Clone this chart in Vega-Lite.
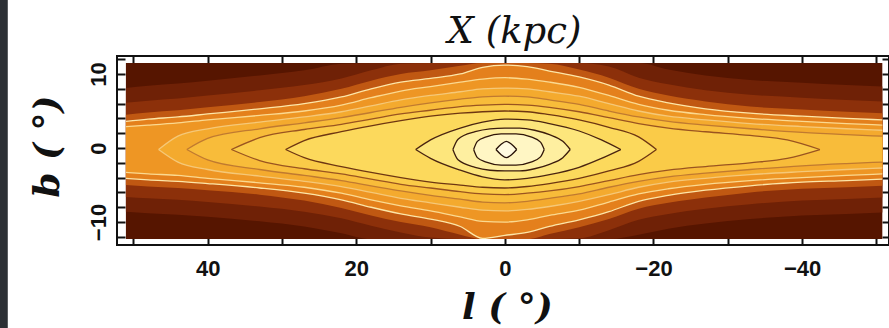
{
  "$schema": "https://vega.github.io/schema/vega-lite/v6.json",
  "width": 772,
  "height": 189,
  "autosize": "none",
  "padding": {"left": 117, "top": 56, "right": 0, "bottom": 83},
  "background": "white",
  "config": {"view": {"stroke": "#111111", "strokeWidth": 2, "fill": "white"}, "axis": {"grid": false}},
  "resolve": {"axis": {"x": "independent", "y": "independent"}},
  "datasets": {
    "lv": [
      {"lv":"G2","l":51,"t":8.1,"b":-8.6},{"lv":"G2","l":48,"t":8.4,"b":-8.8},{"lv":"G2","l":44,"t":8.7,"b":-9.0},{"lv":"G2","l":40,"t":9.1,"b":-9.3},{"lv":"G2","l":33,"t":9.8,"b":-9.9},{"lv":"G2","l":27,"t":10.5,"b":-10.6},{"lv":"G2","l":22,"t":11.4,"b":-11.5},{"lv":"G2","l":18,"t":11.5,"b":-12.3},{"lv":"G2","l":14,"t":11.5,"b":-12.3},{"lv":"G2","l":10,"t":11.5,"b":-12.3},{"lv":"G2","l":6,"t":11.5,"b":-12.3},{"lv":"G2","l":3,"t":11.5,"b":-12.3},{"lv":"G2","l":0,"t":11.5,"b":-12.3},{"lv":"G2","l":-3,"t":11.5,"b":-12.3},{"lv":"G2","l":-6,"t":11.5,"b":-12.3},{"lv":"G2","l":-10,"t":11.5,"b":-12.3},{"lv":"G2","l":-14,"t":11.5,"b":-12.3},{"lv":"G2","l":-18,"t":11.5,"b":-11.7},{"lv":"G2","l":-22,"t":10.6,"b":-10.9},{"lv":"G2","l":-27,"t":9.8,"b":-10.2},{"lv":"G2","l":-33,"t":9.2,"b":-9.6},{"lv":"G2","l":-40,"t":8.8,"b":-9.1},{"lv":"G2","l":-46,"t":8.5,"b":-8.9},{"lv":"G2","l":-50.8,"t":8.3,"b":-8.7},
      {"lv":"G1","l":51,"t":6.1,"b":-6.6},{"lv":"G1","l":48,"t":6.4,"b":-6.8},{"lv":"G1","l":44,"t":6.7,"b":-7.0},{"lv":"G1","l":40,"t":7.1,"b":-7.3},{"lv":"G1","l":33,"t":7.8,"b":-7.9},{"lv":"G1","l":27,"t":8.5,"b":-8.6},{"lv":"G1","l":22,"t":9.4,"b":-9.5},{"lv":"G1","l":18,"t":10.5,"b":-10.5},{"lv":"G1","l":14,"t":11.4,"b":-11.4},{"lv":"G1","l":10,"t":11.5,"b":-12.1},{"lv":"G1","l":6,"t":11.5,"b":-12.3},{"lv":"G1","l":3,"t":11.5,"b":-12.3},{"lv":"G1","l":0,"t":11.5,"b":-12.3},{"lv":"G1","l":-3,"t":11.5,"b":-12.3},{"lv":"G1","l":-6,"t":11.5,"b":-12.3},{"lv":"G1","l":-10,"t":11.5,"b":-12.2},{"lv":"G1","l":-14,"t":11.0,"b":-11.1},{"lv":"G1","l":-18,"t":9.5,"b":-9.7},{"lv":"G1","l":-22,"t":8.6,"b":-8.9},{"lv":"G1","l":-27,"t":7.8,"b":-8.2},{"lv":"G1","l":-33,"t":7.2,"b":-7.6},{"lv":"G1","l":-40,"t":6.8,"b":-7.1},{"lv":"G1","l":-46,"t":6.5,"b":-6.9},{"lv":"G1","l":-50.8,"t":6.3,"b":-6.7},
      {"lv":"G0","l":51,"t":4.5,"b":-5.0},{"lv":"G0","l":48,"t":4.8,"b":-5.2},{"lv":"G0","l":44,"t":5.1,"b":-5.4},{"lv":"G0","l":40,"t":5.5,"b":-5.7},{"lv":"G0","l":33,"t":6.2,"b":-6.3},{"lv":"G0","l":27,"t":7.0,"b":-7.1},{"lv":"G0","l":22,"t":8.0,"b":-8.1},{"lv":"G0","l":18,"t":9.1,"b":-9.1},{"lv":"G0","l":14,"t":10.0,"b":-10.0},{"lv":"G0","l":10,"t":10.5,"b":-10.7},{"lv":"G0","l":6,"t":11.1,"b":-11.7},{"lv":"G0","l":3,"t":11.5,"b":-12.3},{"lv":"G0","l":0,"t":11.5,"b":-12.3},{"lv":"G0","l":-3,"t":11.5,"b":-12.3},{"lv":"G0","l":-6,"t":11.4,"b":-11.6},{"lv":"G0","l":-10,"t":10.6,"b":-10.7},{"lv":"G0","l":-14,"t":9.5,"b":-9.6},{"lv":"G0","l":-18,"t":8.0,"b":-8.2},{"lv":"G0","l":-22,"t":7.1,"b":-7.4},{"lv":"G0","l":-27,"t":6.3,"b":-6.7},{"lv":"G0","l":-33,"t":5.6,"b":-6.0},{"lv":"G0","l":-40,"t":5.2,"b":-5.5},{"lv":"G0","l":-46,"t":4.9,"b":-5.3},{"lv":"G0","l":-50.8,"t":4.7,"b":-5.1},
      {"lv":"L1","l":51,"t":3.6,"b":-4.1},{"lv":"L1","l":48,"t":3.9,"b":-4.3},{"lv":"L1","l":44,"t":4.2,"b":-4.5},{"lv":"L1","l":40,"t":4.6,"b":-4.8},{"lv":"L1","l":33,"t":5.3,"b":-5.4},{"lv":"L1","l":27,"t":6.0,"b":-6.1},{"lv":"L1","l":22,"t":6.9,"b":-7.0},{"lv":"L1","l":18,"t":8.0,"b":-8.0},{"lv":"L1","l":14,"t":8.9,"b":-8.9},{"lv":"L1","l":10,"t":9.4,"b":-9.6},{"lv":"L1","l":6,"t":10.0,"b":-10.6},{"lv":"L1","l":3,"t":10.9,"b":-12.2},{"lv":"L1","l":0,"t":11.2,"b":-11.8},{"lv":"L1","l":-3,"t":11.0,"b":-11.4},{"lv":"L1","l":-6,"t":10.4,"b":-10.6},{"lv":"L1","l":-10,"t":9.6,"b":-9.7},{"lv":"L1","l":-14,"t":8.5,"b":-8.6},{"lv":"L1","l":-18,"t":7.0,"b":-7.2},{"lv":"L1","l":-22,"t":6.1,"b":-6.4},{"lv":"L1","l":-27,"t":5.3,"b":-5.7},{"lv":"L1","l":-33,"t":4.7,"b":-5.1},{"lv":"L1","l":-40,"t":4.3,"b":-4.6},{"lv":"L1","l":-46,"t":4.0,"b":-4.4},{"lv":"L1","l":-50.8,"t":3.8,"b":-4.2},
      {"lv":"L2","l":51,"t":2.9,"b":-3.3},{"lv":"L2","l":48,"t":3.1,"b":-3.5},{"lv":"L2","l":44,"t":3.4,"b":-3.7},{"lv":"L2","l":40,"t":3.8,"b":-4.1},{"lv":"L2","l":33,"t":4.4,"b":-4.7},{"lv":"L2","l":27,"t":5.0,"b":-5.3},{"lv":"L2","l":22,"t":5.8,"b":-6.1},{"lv":"L2","l":18,"t":6.8,"b":-7.0},{"lv":"L2","l":14,"t":7.7,"b":-7.8},{"lv":"L2","l":10,"t":8.3,"b":-8.5},{"lv":"L2","l":6,"t":8.9,"b":-9.3},{"lv":"L2","l":3,"t":9.3,"b":-9.9},{"lv":"L2","l":0,"t":9.5,"b":-10.0},{"lv":"L2","l":-3,"t":9.3,"b":-9.7},{"lv":"L2","l":-6,"t":8.9,"b":-9.1},{"lv":"L2","l":-10,"t":8.2,"b":-8.4},{"lv":"L2","l":-14,"t":7.1,"b":-7.3},{"lv":"L2","l":-18,"t":5.9,"b":-6.2},{"lv":"L2","l":-22,"t":5.1,"b":-5.5},{"lv":"L2","l":-27,"t":4.5,"b":-4.9},{"lv":"L2","l":-33,"t":4.0,"b":-4.4},{"lv":"L2","l":-40,"t":3.6,"b":-4.0},{"lv":"L2","l":-46,"t":3.3,"b":-3.7},{"lv":"L2","l":-50.8,"t":3.1,"b":-3.5},
      {"lv":"L3","l":46.6,"t":-0.2,"b":-0.2},{"lv":"L3","l":44,"t":1.6,"b":-1.9},{"lv":"L3","l":40,"t":2.6,"b":-2.9},{"lv":"L3","l":33,"t":3.5,"b":-3.8},{"lv":"L3","l":27,"t":4.2,"b":-4.5},{"lv":"L3","l":22,"t":4.9,"b":-5.2},{"lv":"L3","l":18,"t":5.7,"b":-6.0},{"lv":"L3","l":14,"t":6.5,"b":-6.8},{"lv":"L3","l":10,"t":7.1,"b":-7.4},{"lv":"L3","l":6,"t":7.6,"b":-8.0},{"lv":"L3","l":3,"t":8.0,"b":-8.4},{"lv":"L3","l":0,"t":8.1,"b":-8.5},{"lv":"L3","l":-3,"t":8.0,"b":-8.3},{"lv":"L3","l":-6,"t":7.6,"b":-7.9},{"lv":"L3","l":-10,"t":7.0,"b":-7.2},{"lv":"L3","l":-14,"t":6.0,"b":-6.3},{"lv":"L3","l":-18,"t":5.0,"b":-5.3},{"lv":"L3","l":-22,"t":4.3,"b":-4.6},{"lv":"L3","l":-27,"t":3.8,"b":-4.1},{"lv":"L3","l":-33,"t":3.3,"b":-3.6},{"lv":"L3","l":-40,"t":2.9,"b":-3.2},{"lv":"L3","l":-46,"t":2.6,"b":-2.9},{"lv":"L3","l":-50.8,"t":2.4,"b":-2.7},
      {"lv":"L4","l":42.8,"t":-0.2,"b":-0.2},{"lv":"L4","l":40,"t":1.3,"b":-1.6},{"lv":"L4","l":33,"t":2.6,"b":-2.9},{"lv":"L4","l":27,"t":3.4,"b":-3.7},{"lv":"L4","l":22,"t":4.1,"b":-4.4},{"lv":"L4","l":18,"t":4.8,"b":-5.1},{"lv":"L4","l":14,"t":5.5,"b":-5.8},{"lv":"L4","l":10,"t":6.1,"b":-6.4},{"lv":"L4","l":6,"t":6.6,"b":-6.9},{"lv":"L4","l":3,"t":6.9,"b":-7.3},{"lv":"L4","l":0,"t":7.0,"b":-7.4},{"lv":"L4","l":-3,"t":6.9,"b":-7.2},{"lv":"L4","l":-6,"t":6.5,"b":-6.8},{"lv":"L4","l":-10,"t":5.9,"b":-6.2},{"lv":"L4","l":-14,"t":5.0,"b":-5.3},{"lv":"L4","l":-18,"t":4.2,"b":-4.5},{"lv":"L4","l":-22,"t":3.6,"b":-3.9},{"lv":"L4","l":-27,"t":3.1,"b":-3.4},{"lv":"L4","l":-33,"t":2.6,"b":-2.9},{"lv":"L4","l":-40,"t":2.1,"b":-2.4},{"lv":"L4","l":-46,"t":1.8,"b":-2.1},{"lv":"L4","l":-50.8,"t":1.6,"b":-1.9},
      {"lv":"L5","l":36.8,"t":-0.2,"b":-0.2},{"lv":"L5","l":33,"t":1.4,"b":-1.7},{"lv":"L5","l":27,"t":2.5,"b":-2.8},{"lv":"L5","l":22,"t":3.2,"b":-3.5},{"lv":"L5","l":18,"t":3.9,"b":-4.2},{"lv":"L5","l":14,"t":4.6,"b":-4.9},{"lv":"L5","l":10,"t":5.1,"b":-5.4},{"lv":"L5","l":6,"t":5.6,"b":-5.9},{"lv":"L5","l":3,"t":5.8,"b":-6.2},{"lv":"L5","l":0,"t":5.9,"b":-6.3},{"lv":"L5","l":-3,"t":5.8,"b":-6.1},{"lv":"L5","l":-6,"t":5.5,"b":-5.8},{"lv":"L5","l":-10,"t":4.9,"b":-5.2},{"lv":"L5","l":-14,"t":4.1,"b":-4.4},{"lv":"L5","l":-18,"t":3.3,"b":-3.6},{"lv":"L5","l":-22,"t":2.7,"b":-3.0},{"lv":"L5","l":-27,"t":2.2,"b":-2.5},{"lv":"L5","l":-33,"t":1.7,"b":-2.0},{"lv":"L5","l":-38,"t":1.1,"b":-1.4},{"lv":"L5","l":-42.4,"t":-0.2,"b":-0.2},
      {"lv":"L6","l":29.5,"t":-0.2,"b":-0.2},{"lv":"L6","l":27,"t":1.0,"b":-1.3},{"lv":"L6","l":22,"t":2.2,"b":-2.5},{"lv":"L6","l":18,"t":3.0,"b":-3.3},{"lv":"L6","l":14,"t":3.7,"b":-4.0},{"lv":"L6","l":10,"t":4.3,"b":-4.6},{"lv":"L6","l":6,"t":4.7,"b":-5.0},{"lv":"L6","l":3,"t":4.9,"b":-5.3},{"lv":"L6","l":0,"t":5.0,"b":-5.4},{"lv":"L6","l":-3,"t":4.9,"b":-5.2},{"lv":"L6","l":-6,"t":4.5,"b":-4.8},{"lv":"L6","l":-10,"t":3.8,"b":-4.1},{"lv":"L6","l":-14,"t":2.8,"b":-3.1},{"lv":"L6","l":-18,"t":1.5,"b":-1.8},{"lv":"L6","l":-20.4,"t":-0.2,"b":-0.2},
      {"lv":"C","l":12,"t":-0.2,"b":-0.2},{"lv":"C","l":10,"t":1.1,"b":-1.4},{"lv":"C","l":6,"t":2.7,"b":-3.0},{"lv":"C","l":3,"t":3.5,"b":-3.9},{"lv":"C","l":0,"t":3.9,"b":-4.3},{"lv":"C","l":-3,"t":3.8,"b":-4.1},{"lv":"C","l":-6,"t":3.3,"b":-3.6},{"lv":"C","l":-10,"t":2.3,"b":-2.6},{"lv":"C","l":-13,"t":1.1,"b":-1.4},{"lv":"C","l":-15.6,"t":-0.2,"b":-0.2},
      {"lv":"Bp","l":7,"t":-0.2,"b":-0.2},{"lv":"Bp","l":6.3,"t":1.2,"b":-1.6},{"lv":"Bp","l":4,"t":2.2,"b":-2.6},{"lv":"Bp","l":2,"t":2.6,"b":-3.0},{"lv":"Bp","l":0,"t":2.7,"b":-3.1},{"lv":"Bp","l":-2,"t":2.7,"b":-3.1},{"lv":"Bp","l":-4,"t":2.4,"b":-2.8},{"lv":"Bp","l":-6,"t":1.8,"b":-2.2},{"lv":"Bp","l":-7.8,"t":0.9,"b":-1.3},{"lv":"Bp","l":-8.8,"t":-0.2,"b":-0.2},
      {"lv":"B","l":4.2,"t":-0.2,"b":-0.2},{"lv":"B","l":3.7,"t":0.9,"b":-1.3},{"lv":"B","l":2.5,"t":1.5,"b":-1.9},{"lv":"B","l":0.5,"t":1.9,"b":-2.3},{"lv":"B","l":-1.5,"t":1.9,"b":-2.3},{"lv":"B","l":-3.5,"t":1.5,"b":-1.9},{"lv":"B","l":-4.8,"t":0.8,"b":-1.2},{"lv":"B","l":-5.3,"t":-0.2,"b":-0.2},
      {"lv":"A","l":1.2,"t":-0.2,"b":-0.2},{"lv":"A","l":0.5,"t":0.5,"b":-0.9},{"lv":"A","l":-0.2,"t":0.9,"b":-1.3},{"lv":"A","l":-0.9,"t":0.5,"b":-0.9},{"lv":"A","l":-1.6,"t":-0.2,"b":-0.2}
    ]
  },
  "layer": [
    {
      "data": {"values": [{"l1": 68.5, "l2": 66.9, "b1": 21, "b2": -25}]},
      "mark": {"type": "rect", "clip": false},
      "encoding": {
        "x": {"field": "l1", "type": "quantitative", "scale": {"domain": [52.2, -51.7], "nice": false, "zero": false},
          "axis": {"orient": "top", "values": [50, 40, 30, 20, 10, 0, -10, -20, -30, -40, -50], "labels": false, "tickSize": -8, "tickColor": "#111111", "tickWidth": 2, "domain": false,
            "title": "X  (kpc)", "titleFont": "DejaVu Serif", "titleFontStyle": "italic", "titleFontWeight": "normal", "titleFontSize": 37, "titleColor": "#111111", "titleX": 397, "titleY": -14, "titleAlign": "center", "titleBaseline": "alphabetic"}},
        "x2": {"field": "l2"},
        "y": {"field": "b1", "type": "quantitative", "scale": {"domain": [-13.1, 12.43], "nice": false, "zero": false},
          "axis": {"orient": "right", "values": [-12, -10, -8, -6, -4, -2, 0, 2, 4, 6, 8, 10, 12], "labels": false, "tickSize": -7, "tickColor": "#111111", "tickWidth": 2, "domain": false, "title": null}},
        "y2": {"field": "b2"},
        "color": {"value": "#2c3035"}
      }
    },
    {
      "data": {"values": [{"l1": 51.0, "l2": -50.8, "b1": 11.5, "b2": -12.3}]},
      "mark": {"type": "rect"},
      "encoding": {
        "x": {"field": "l1", "type": "quantitative", "scale": {"domain": [52.2, -51.7], "nice": false, "zero": false},
          "axis": {"orient": "bottom", "values": [50, 40, 30, 20, 10, 0, -10, -20, -30, -40, -50], "labelExpr": "datum.value % 20 == 0 ? datum.label : ''", "labelOverlap": false, "labelFlush": false, "tickSize": -8, "tickColor": "#111111", "tickWidth": 2, "domain": false,
            "labelFont": "Liberation Sans", "labelFontWeight": "bold", "labelFontSize": 22, "labelColor": "#111111", "labelPadding": 21,
            "title": "l ( °)", "titleFont": "DejaVu Serif", "titleFontStyle": "italic", "titleFontWeight": "bold", "titleFontSize": 36, "titleColor": "#111111", "titleX": 390, "titleY": 73, "titleAlign": "center", "titleBaseline": "alphabetic"}},
        "x2": {"field": "l2"},
        "y": {"field": "b1", "type": "quantitative", "scale": {"domain": [-13.1, 12.43], "nice": false, "zero": false},
          "axis": {"orient": "left", "values": [-12, -10, -8, -6, -4, -2, 0, 2, 4, 6, 8, 10, 12], "labelExpr": "datum.value % 10 == 0 ? datum.label : ''", "labelOverlap": false, "labelFlush": false, "labelAngle": 270, "labelAlign": "center", "labelBaseline": "alphabetic", "tickSize": -8, "tickColor": "#111111", "tickWidth": 2, "domain": false,
            "labelFont": "Liberation Sans", "labelFontWeight": "bold", "labelFontSize": 22, "labelColor": "#111111", "labelPadding": 20,
            "title": "b ( °)", "titleFont": "DejaVu Serif", "titleFontStyle": "italic", "titleFontWeight": "bold", "titleFontSize": 36, "titleColor": "#111111", "titleAngle": 270, "titleX": -59, "titleY": 90, "titleAlign": "center", "titleBaseline": "alphabetic"}},
        "y2": {"field": "b2"},
        "color": {"value": "#561500"}
      }
    },
    {
      "data": {"name": "lv"},
      "encoding": {
        "x": {"field": "l", "type": "quantitative", "scale": {"domain": [52.2, -51.7], "nice": false, "zero": false}, "axis": null},
        "y": {"field": "t", "type": "quantitative", "scale": {"domain": [-13.1, 12.43], "nice": false, "zero": false}, "axis": null, "stack": null},
        "y2": {"field": "b"},
        "fill": {"field": "lv", "type": "nominal", "legend": null,
          "scale": {"domain": ["G2", "G1", "G0", "L1", "L2", "L3", "L4", "L5", "L6", "C", "Bp", "B", "A"],
                    "range": ["#6f2106", "#8c300a", "#c05812", "#e4801c", "#ee9624", "#f4aa2e", "#f8bc3a", "#facb48", "#fcd95c", "#fde67c", "#feefa0", "#fff6c4", "#fffae0"]}}
      },
      "layer": [
        {"transform": [{"filter": "datum.lv == 'G2'"}], "mark": {"type": "area", "interpolate": "monotone", "opacity": 1}},
        {"transform": [{"filter": "datum.lv == 'G1'"}], "mark": {"type": "area", "interpolate": "monotone", "opacity": 1}},
        {"transform": [{"filter": "datum.lv == 'G0'"}], "mark": {"type": "area", "interpolate": "monotone", "opacity": 1}},
        {"transform": [{"filter": "datum.lv == 'L1'"}], "mark": {"type": "area", "interpolate": "monotone", "opacity": 1}},
        {"transform": [{"filter": "datum.lv == 'L2'"}], "mark": {"type": "area", "interpolate": "monotone", "opacity": 1}},
        {"transform": [{"filter": "datum.lv == 'L3'"}], "mark": {"type": "area", "interpolate": "monotone", "opacity": 1}},
        {"transform": [{"filter": "datum.lv == 'L4'"}], "mark": {"type": "area", "interpolate": "monotone", "opacity": 1}},
        {"transform": [{"filter": "datum.lv == 'L5'"}], "mark": {"type": "area", "interpolate": "monotone", "opacity": 1}},
        {"transform": [{"filter": "datum.lv == 'L6'"}], "mark": {"type": "area", "interpolate": "monotone", "opacity": 1}},
        {"transform": [{"filter": "datum.lv == 'C'"}], "mark": {"type": "area", "interpolate": "monotone", "opacity": 1}},
        {"transform": [{"filter": "datum.lv == 'Bp'"}], "mark": {"type": "area", "interpolate": "monotone", "opacity": 1}},
        {"transform": [{"filter": "datum.lv == 'B'"}], "mark": {"type": "area", "interpolate": "monotone", "opacity": 1}},
        {"transform": [{"filter": "datum.lv == 'A'"}], "mark": {"type": "area", "interpolate": "monotone", "opacity": 1}}
      ]
    },
    {
      "data": {"name": "lv"},
      "transform": [{"filter": {"field": "lv", "oneOf": ["L1", "L2", "L3", "L4", "L5", "L6", "C", "Bp", "B", "A"]}}],
      "encoding": {
        "x": {"field": "l", "type": "quantitative", "scale": {"domain": [52.2, -51.7], "nice": false, "zero": false}, "axis": null},
        "detail": {"field": "lv"},
        "stroke": {"field": "lv", "type": "nominal", "legend": null,
          "scale": {"domain": ["L1", "L2", "L3", "L4", "L5", "L6", "C", "Bp", "B", "A"],
                    "range": ["#fde6a8", "#fbd990", "#f5c878", "#c07a30", "#9a5420", "#6e3612", "#4a2410", "#3c1c0c", "#301508", "#261006"]}},
        "strokeWidth": {"field": "lv", "type": "ordinal", "legend": null,
          "scale": {"domain": ["L1", "L2", "L3", "L4", "L5", "L6", "C", "Bp", "B", "A"],
                    "range": [1.3, 1.3, 1.3, 1.6, 1.6, 1.7, 2, 2, 2.2, 2.4]}}
      },
      "layer": [
        {"mark": {"type": "line", "interpolate": "monotone"},
         "encoding": {"y": {"field": "t", "type": "quantitative", "scale": {"domain": [-13.1, 12.43], "nice": false, "zero": false}, "axis": null}}},
        {"mark": {"type": "line", "interpolate": "monotone"},
         "encoding": {"y": {"field": "b", "type": "quantitative", "scale": {"domain": [-13.1, 12.43], "nice": false, "zero": false}, "axis": null}}}
      ]
    }
  ]
}
